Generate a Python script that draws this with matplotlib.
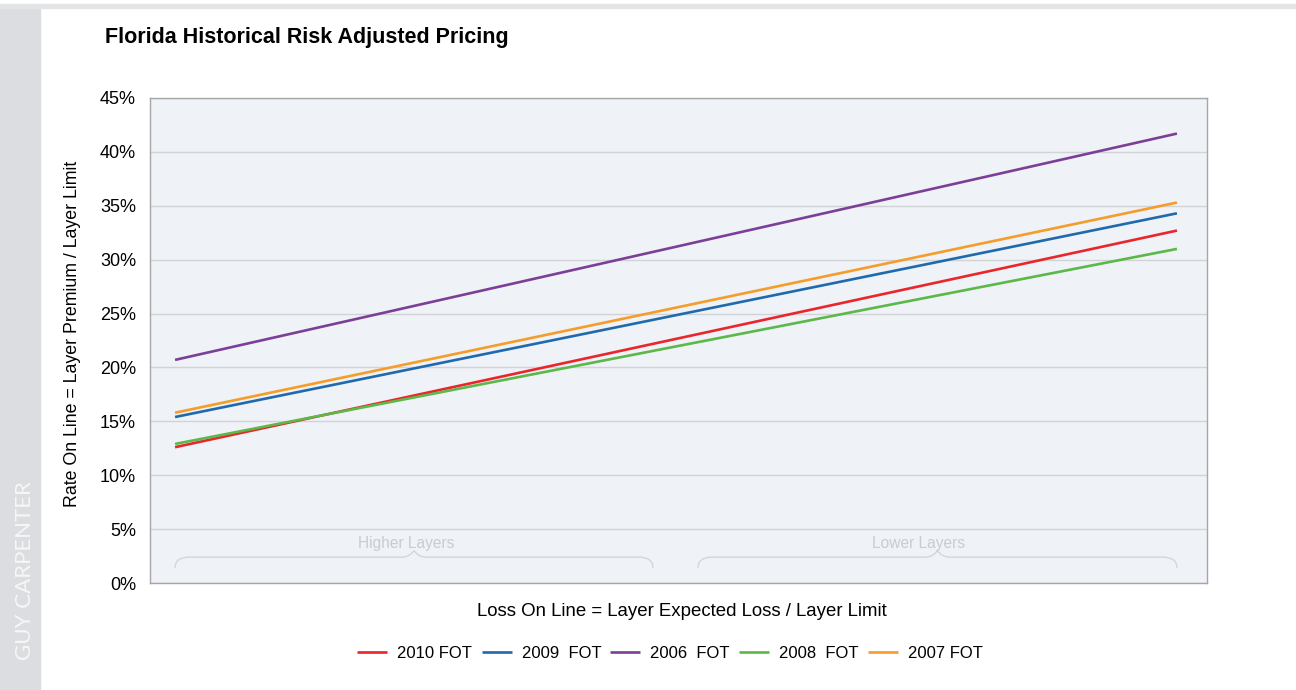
import matplotlib.pyplot as plt
from matplotlib.path import Path
from matplotlib.patches import PathPatch, Rectangle

plt.rcParams['font.family'] = ['Liberation Sans', 'DejaVu Sans']

# endpoints of each pricing line (loss on line, rate on line %)
x_pos = [0.0, 1.0]
series = ["2010 FOT", "2009  FOT", "2006  FOT", "2008  FOT", "2007 FOT"]
rol_2010 = [12.6, 32.7]
rol_2009 = [15.4, 34.3]
rol_2006 = [20.7, 41.7]
rol_2008 = [12.9, 31.0]
rol_2007 = [15.8, 35.3]
colors = ["#e8262b", "#1f6aad", "#7b3f98", "#5cb848", "#f59d2a"]
yticks = [0, 5, 10, 15, 20, 25, 30, 35, 40, 45]
layer_names = ["Higher Layers", "Lower Layers"]
layer_spans = [(0.0, 0.477), (0.522, 1.0)]
layer_label_x = [0.2305, 0.7425]

fig = plt.figure(figsize=(12.96, 6.9), dpi=100)

# page decoration: grey sidebar + top rule
fig.patches.append(Rectangle((0, 0), 40/1296, 1 - 9/690, transform=fig.transFigure,
                             color="#dcdde0", zorder=0))
fig.patches.append(Rectangle((0, 1 - 8/690), 1, 4/690, transform=fig.transFigure,
                             color="#e3e4e6", zorder=0))
fig.text(25/1296, 1 - 571/690, "GUY CARPENTER", rotation=90, color="#f7f7f8",
         fontsize=16, family=["Lato", "DejaVu Sans"],
         ha="center", va="center")

ax = fig.add_axes([150/1296, 1 - 583/690, 1057/1296, 485/690])
ax.set_facecolor("#eff2f7")
for v, c, lab in zip([rol_2010, rol_2009, rol_2006, rol_2008, rol_2007], colors, series):
    ax.plot(x_pos, v, color=c, lw=1.9, label=lab, solid_capstyle="butt", zorder=3)

ax.set_xlim(-0.025, 1.03)
ax.set_ylim(0, 45)
ax.set_yticks(yticks)
ax.set_yticklabels([f"{t}%" for t in yticks], fontsize=13)
ax.set_xticks([])
ax.tick_params(axis="y", length=0, pad=10)
ax.grid(axis="y", color="#d2d3d6", lw=1)
ax.set_axisbelow(True)
for s in ax.spines.values():
    s.set_color("#a6a6a6")
    s.set_linewidth(1)

# braces marking layer groups
def brace(x0, x1, y=2.4, ylo=1.4, ypk=3.0, dx=0.014, dp=0.012):
    xc = (x0 + x1) / 2
    verts = [(x0, ylo), (x0, y), (x0 + dx, y),
             (xc - dp, y), (xc - dp * 0.4, y), (xc, ypk),
             (xc + dp * 0.4, y), (xc + dp, y),
             (x1 - dx, y), (x1, y), (x1, ylo)]
    codes = [Path.MOVETO, Path.CURVE3, Path.CURVE3,
             Path.LINETO, Path.CURVE3, Path.CURVE3,
             Path.CURVE3, Path.CURVE3,
             Path.LINETO, Path.CURVE3, Path.CURVE3]
    ax.add_patch(PathPatch(Path(verts, codes), fill=False, ec="#d3d5d9", lw=1, zorder=2))

for name, (a, b), lx in zip(layer_names, layer_spans, layer_label_x):
    brace(a, b)
    ax.text(lx, 3.7, name, color="#c9cbd0", fontsize=11.2,
            ha="center", va="center")

fig.text(73/1296, 1 - 334/690, "Rate On Line = Layer Premium / Layer Limit",
         rotation=90, fontsize=12.8, ha="center", va="center")
fig.text(682/1296, 1 - 612/690, "Loss On Line = Layer Expected Loss / Layer Limit",
         fontsize=13.4, ha="center", va="center")
fig.text(105/1296, 1 - 38/690, "Florida Historical Risk Adjusted Pricing",
         fontsize=15.5, fontweight="bold", ha="left", va="center")

fig.legend(loc="center", bbox_to_anchor=(670/1296, 1 - 653/690), ncol=5,
           frameon=False, fontsize=12, handlelength=1.8, handletextpad=0.6,
           columnspacing=0.55)

fig.savefig("out.png", dpi=100)
